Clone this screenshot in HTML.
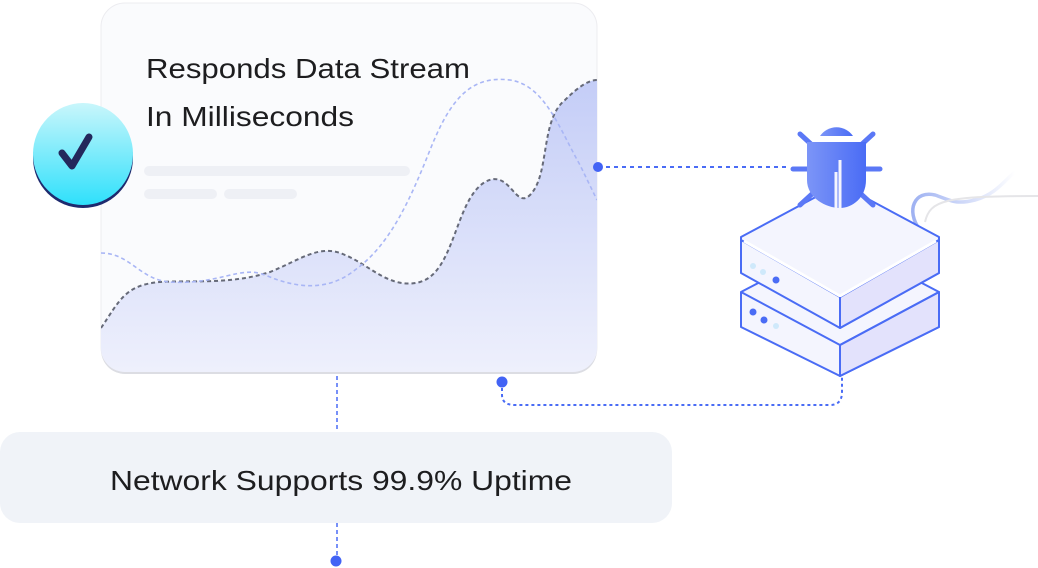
<!DOCTYPE html>
<html><head><meta charset="utf-8"><style>
html,body{margin:0;padding:0;background:#fff;width:1038px;height:568px;overflow:hidden}
svg{display:block}
text{font-family:"Liberation Sans",sans-serif;fill:#1d1d1f}
</style></head><body>
<svg width="1038" height="568" viewBox="0 0 1038 568">
<defs>
<linearGradient id="fill" x1="0" y1="0" x2="0" y2="1"><stop offset="0" stop-color="#c4cdf7"/><stop offset="1" stop-color="#eef0fc"/></linearGradient>
<linearGradient id="chk" x1="0" y1="0" x2="0" y2="1"><stop offset="0" stop-color="#c9f6fb"/><stop offset="1" stop-color="#2fe0fb"/></linearGradient>
<linearGradient id="bug" x1="0" y1="0" x2="1" y2="0"><stop offset="0" stop-color="#7c95f7"/><stop offset="1" stop-color="#4a6cf5"/></linearGradient>
<linearGradient id="wire" x1="0" y1="0" x2="1" y2="0"><stop offset="0" stop-color="#9fb2f2"/><stop offset="1" stop-color="#fff"/></linearGradient>
<clipPath id="cc"><rect x="101" y="3" width="496" height="369" rx="24"/></clipPath>
</defs>
<rect x="101" y="5" width="496" height="369" rx="24" fill="#dcdde3"/>
<rect x="101" y="3" width="496" height="368" rx="24" fill="#fafbfd" stroke="#ececf0"/>
<g clip-path="url(#cc)">
<path d="M101 328 C120 300 125 285 160 282 C190 280 230 285 270 272 C300 260 320 243 345 255 C370 265 390 290 420 282 C455 272 455 200 485 182 C510 168 515 210 530 195 C550 175 540 120 565 100 C580 85 590 80 597 80 L597 372 L101 372Z" fill="url(#fill)"/>
<path d="M101 328 C120 300 125 285 160 282 C190 280 230 285 270 272 C300 260 320 243 345 255 C370 265 390 290 420 282 C455 272 455 200 485 182 C510 168 515 210 530 195 C550 175 540 120 565 100 C580 85 590 80 597 80" fill="none" stroke="#666a78" stroke-width="2" stroke-dasharray="4 3"/>
<path d="M101 253 C130 253 140 280 170 282 C220 285 240 265 265 275 C300 290 330 290 355 270 C390 245 410 200 430 150 C450 100 470 75 510 80 C545 85 560 130 580 165 L597 200" fill="none" stroke="#a9b6f5" stroke-width="1.6" stroke-dasharray="4 3"/>
</g>
<text x="146" y="78" font-size="28" textLength="324" lengthAdjust="spacingAndGlyphs">Responds Data Stream</text>
<text x="146" y="126" font-size="28" textLength="208" lengthAdjust="spacingAndGlyphs">In Milliseconds</text>
<rect x="144" y="166" width="266" height="10" rx="5" fill="#eef0f5"/>
<rect x="144" y="189" width="73" height="10" rx="5" fill="#eef0f5"/>
<rect x="224" y="189" width="73" height="10" rx="5" fill="#eef0f5"/>
<ellipse cx="83" cy="158" rx="50" ry="50" fill="#1e2a6e"/>
<ellipse cx="83" cy="154" rx="50" ry="51" fill="url(#chk)"/>
<path d="M62 153 L72 166 L89 137" fill="none" stroke="#23285c" stroke-width="7" stroke-linecap="round" stroke-linejoin="round"/>
<path d="M598 167 L790 167" stroke="#4a6cf5" stroke-width="2" stroke-dasharray="4 4"/>
<circle cx="598" cy="167" r="5" fill="#4263f5"/>
<path d="M502 382 L502 395 Q502 405 515 405 L830 405 Q842 405 842 392 L842 376" fill="none" stroke="#4a6cf5" stroke-width="2" stroke-dasharray="3 3"/>
<circle cx="502" cy="382" r="5.5" fill="#4263f5"/>
<path d="M337 376 L337 432 M337 523 L337 560" stroke="#4a6cf5" stroke-width="1.5" stroke-dasharray="4 3"/>
<circle cx="336" cy="561" r="5.5" fill="#4263f5"/>
<rect x="0" y="432" width="672" height="91" rx="20" fill="#f0f3f8"/>
<text x="110" y="490" font-size="28" textLength="462" lengthAdjust="spacingAndGlyphs">Network Supports 99.9% Uptime</text>
<path d="M920 230 C905 210 915 190 935 195 C950 200 955 205 975 200 C995 195 1005 180 1015 172" fill="none" stroke="url(#wire)" stroke-width="3.5"/>
<path d="M925 222 C930 200 945 196 1038 196" fill="none" stroke="#e5e5e8" stroke-width="2"/>
<g stroke="#4a6cf5" stroke-width="2" stroke-linejoin="round">
<path d="M741 292 L840 240 L939 292 L939 327 L840 376 L741 327Z" fill="#f4f5fe"/>
<path d="M840 345 L939 292 L939 327 L840 376Z" fill="#e3e2fc"/>
<path d="M741 292 L840 345 L939 292" fill="none"/>
<line x1="840" y1="345" x2="840" y2="376"/>
</g>
<g stroke="#4a6cf5" stroke-width="2" stroke-linejoin="round">
<path d="M741 237 L840 184 L939 237 L939 273 L840 328 L741 273Z" fill="#f4f5fe"/>
<path d="M840 297 L939 240 L939 273 L840 328Z" fill="#e3e2fc"/>
<path d="M741 240 L840 297 L939 240" fill="none"/>
<path d="M744 241 L840 296 L936 241" fill="none" stroke="#fff" stroke-width="3"/>
<line x1="840" y1="297" x2="840" y2="328"/>
</g>
<circle cx="753" cy="266" r="3" fill="#cfe9fb"/><circle cx="763" cy="272" r="3" fill="#cfe9fb"/><circle cx="776" cy="280" r="3.5" fill="#4a6cf5"/>
<circle cx="753" cy="312" r="3.5" fill="#4a6cf5"/><circle cx="764" cy="320" r="3.5" fill="#4a6cf5"/><circle cx="776" cy="326" r="3" fill="#cfe9fb"/>
<g stroke="#5b78f6" stroke-width="5" stroke-linecap="round">
<line x1="800" y1="134" x2="812" y2="145"/><line x1="873" y1="134" x2="861" y2="145"/>
<line x1="793" y1="169" x2="809" y2="169"/><line x1="880" y1="169" x2="864" y2="169"/>
<line x1="800" y1="205" x2="812" y2="194"/><line x1="873" y1="205" x2="861" y2="194"/>
</g>
<g fill="url(#bug)" stroke="none">
<path d="M820 136 A20 20 0 0 1 853 136Z"/>
<path d="M807 142 L866 142 L866 180 C866 198 852 208 840 208 C826 208 807 198 807 180Z"/>
</g>
<path d="M836 208 L836 172 M840 160 L840 208" stroke="#f4f5fe" stroke-width="3"/>
</svg>
</body></html>
